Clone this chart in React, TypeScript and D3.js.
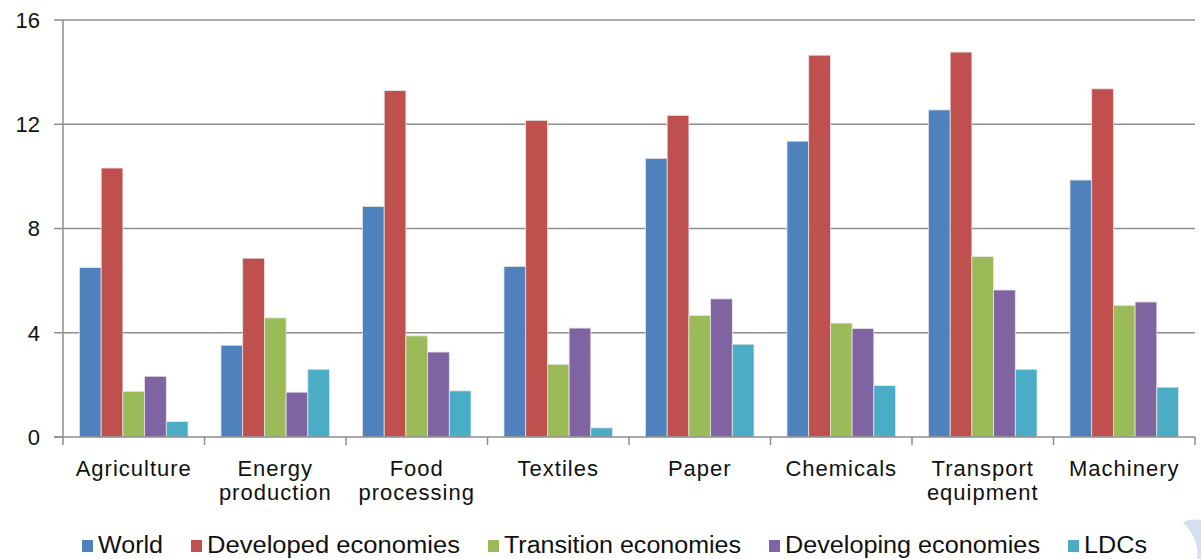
import React from "react";
import * as d3 from "d3";

const categories = [
  ["Agriculture"],
  ["Energy", "production"],
  ["Food", "processing"],
  ["Textiles"],
  ["Paper"],
  ["Chemicals"],
  ["Transport", "equipment"],
  ["Machinery"],
];
const seriesNames = ["World", "Developed economies", "Transition economies", "Developing economies", "LDCs"];
const seriesColors = ["#4f81bd", "#c0504d", "#9bbb59", "#8064a2", "#4bacc6"];
const world = [6.5, 3.52, 8.84, 6.54, 10.69, 11.35, 12.55, 9.86];
const developed = [10.32, 6.86, 13.29, 12.15, 12.34, 14.65, 14.77, 13.36];
const transition = [1.75, 4.57, 3.88, 2.79, 4.66, 4.37, 6.92, 5.05];
const developing = [2.33, 1.72, 3.26, 4.18, 5.3, 4.16, 5.64, 5.18];
const ldcs = [0.59, 2.6, 1.77, 0.35, 3.56, 1.97, 2.6, 1.91];
const seriesValues = [world, developed, transition, developing, ldcs];
const yTicks = [0, 4, 8, 12, 16];

// legend text extents (x start, width)
const legendX = [98, 207, 504, 785, 1084];
const legendW = [65, 253, 237, 255, 63];

export default function App() {
  const W = 1201, H = 559;
  const left = 63, right = 1195, top = 20, bottom = 437;
  const keys = categories.map((c) => c.join(" "));
  const x0 = d3.scaleBand<string>().domain(keys).range([left, right]).padding(0);
  const bw = x0.bandwidth();
  const groupW = bw * 0.767;
  const x1 = d3
    .scaleBand<number>()
    .domain(d3.range(seriesNames.length))
    .range([(bw - groupW) / 2, (bw + groupW) / 2])
    .padding(0);
  const y = d3.scaleLinear().domain([0, 16]).range([bottom, top]);
  const gridColor = "#8e8e8e";
  const font = "'Liberation Sans', Arial, sans-serif";

  return (
    <div style={{ position: "absolute", left: 0, top: 0, width: W, height: H, background: "#fff" }}>
      <svg width={W} height={H} style={{ display: "block" }}>
        <rect x={0} y={0} width={W} height={H} fill="#fff" />
        {/* decorative slide curve */}
        <path d="M1183,522 C1195,535 1199,548 1197,559 L1201,559 L1201,520 C1196,519 1189,519 1183,522 Z" fill="#c9d8ee" opacity={0.8} />
        {/* gridlines */}
        {yTicks.map((t) => (
          <g key={t}>
            {t > 0 && (
              <line x1={left} x2={right} y1={y(t)} y2={y(t)} stroke={gridColor} strokeWidth={1.5} />
            )}
            <line x1={left - 9} x2={left} y1={y(t)} y2={y(t)} stroke={gridColor} strokeWidth={1.5} />
            <text
              x={40}
              y={y(t)}
              dy="0.36em"
              textAnchor="end"
              fontFamily={font}
              fontSize={22}
              fill="#111"
            >
              {t}
            </text>
          </g>
        ))}
        {/* bars */}
        {keys.map((k, ci) => (
          <g key={k} transform={`translate(${x0(k)},0)`}>
            {seriesValues.map((vals, si) => (
              <rect
                key={si}
                x={x1(si)}
                y={y(vals[ci])}
                width={x1.bandwidth()}
                height={bottom - y(vals[ci])}
                fill={seriesColors[si]}
                stroke="#e4e4e4"
                strokeWidth={0.8}
              />
            ))}
          </g>
        ))}
        {/* axes */}
        <line x1={left} x2={left} y1={top} y2={bottom + 8} stroke={gridColor} strokeWidth={1.5} />
        <line x1={left - 9} x2={right} y1={bottom} y2={bottom} stroke={gridColor} strokeWidth={1.5} />
        {keys.map((k, i) => (
          <line key={k} x1={x0(k)! + bw} x2={x0(k)! + bw} y1={bottom} y2={bottom + 8} stroke={gridColor} strokeWidth={1.5} />
        ))}
        {/* category labels */}
        {categories.map((lines, i) => (
          <text
            key={i}
            x={x0(keys[i])! + bw / 2}
            y={476}
            textAnchor="middle"
            fontFamily={font}
            fontSize={22}
            letterSpacing={1}
            fill="#111"
          >
            {lines.map((ln, j) => (
              <tspan key={j} x={x0(keys[i])! + bw / 2} dy={j === 0 ? 0 : 24}>
                {ln}
              </tspan>
            ))}
          </text>
        ))}
        {/* legend */}
        {seriesNames.map((s, i) => (
          <g key={s}>
            <rect x={legendX[i] - 16} y={540} width={11} height={12} fill={seriesColors[i]} />
            <text
              x={legendX[i]}
              y={553}
              fontFamily={font}
              fontSize={23}
              fill="#111"
              textLength={legendW[i]}
              lengthAdjust="spacingAndGlyphs"
            >
              {s}
            </text>
          </g>
        ))}
      </svg>
    </div>
  );
}
